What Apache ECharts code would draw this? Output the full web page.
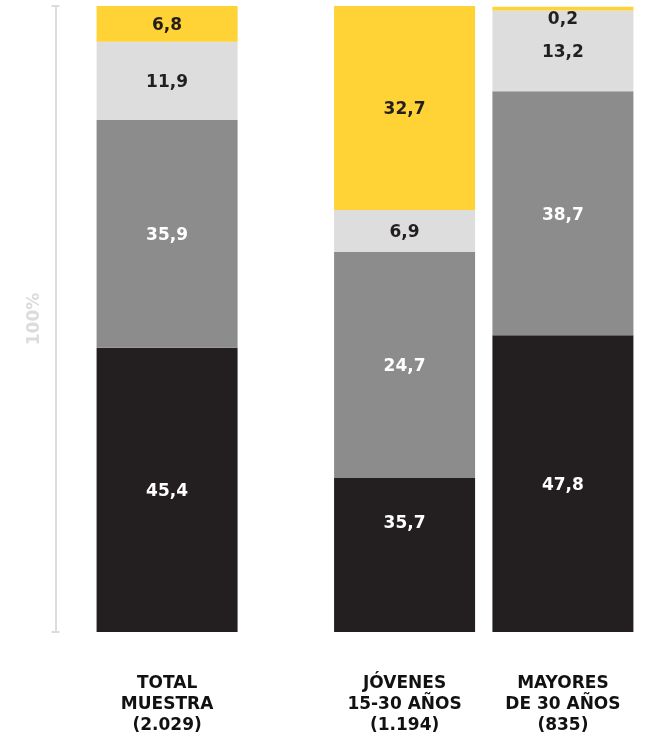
<!DOCTYPE html>
<html>
<head>
<meta charset="utf-8">
<script src="https://cdn.jsdelivr.net/npm/echarts@6/dist/echarts.min.js"></script>
<style>
  html, body { margin: 0; padding: 0; background: #fff; }
  #echarts { width: 646px; height: 741px; }
</style>
</head>
<body>
<div id="echarts"></div>
<script>
// categorias (los huecos separan el total de los grupos de edad)
const categories = ['TOTAL\nMUESTRA\n(2.029)', '', '', 'JÓVENES\n15-30 AÑOS\n(1.194)', '', 'MAYORES\nDE 30 AÑOS\n(835)']
const slots = [0, 3, 5]

// altura dibujada de cada tramo en % (de abajo hacia arriba)
const negro = [45.4, 24.6, 47.4]
const grisOscuro = [36.4, 36.1, 39.0]
const grisClaro = [12.5, 6.7, 12.9]
const amarillo = [5.7, 32.6, 0.6]

// cifras impresas en cada tramo
const negroTxt = ['45,4', '35,7', '47,8']
const grisOscuroTxt = ['35,9', '24,7', '38,7']
const grisClaroTxt = ['11,9', '6,9', '13,2']
const amarilloTxt = ['6,8', '32,7', '0,2']

const FONT = 'DejaVu Sans'

// colocar cada valor en su hueco de categoria
const toSlots = (values, texts) => {
  const out = categories.map(() => '-')
  slots.forEach((s, i) => { out[s] = { value: values[i], txt: texts[i] } })
  return out
}

const makeSeries = (name, values, texts, color, labelColor) => ({
  name,
  type: 'bar',
  stack: 'total',
  barWidth: 141,
  clip: false,
  data: toSlots(values, texts),
  itemStyle: { color },
  label: {
    show: true,
    position: 'inside',
    offset: [0, 2],
    formatter: (p) => p.data.txt,
    color: labelColor,
    fontFamily: FONT,
    fontWeight: 'bold',
    fontSize: 17,
  },
})

const series = [
  makeSeries('negro', negro, negroTxt, '#231f20', '#fff'),
  makeSeries('grisOscuro', grisOscuro, grisOscuroTxt, '#8c8c8c', '#fff'),
  makeSeries('grisClaro', grisClaro, grisClaroTxt, '#dddddd', '#231f20'),
  makeSeries('amarillo', amarillo, amarilloTxt, '#ffd236', '#231f20'),
]
// el 35,7 de jovenes va mas arriba en el original
series[0].data[3].label = { offset: [0, -31] }
// el 0,2 no cabe: etiqueta debajo de la franja amarilla
series[3].data[5].label = { position: 'bottom', distance: 1, offset: [0, 0] }

const yBase = {
  type: 'value',
  min: 0,
  max: 100,
  interval: 100,
  position: 'left',
  offset: 72,
  splitLine: { show: false },
  axisLabel: { show: false },
}

const option = {
  animation: false,
  grid: { left: 127.5, right: 43.5, top: 6, bottom: 109 },
  xAxis: {
    type: 'category',
    data: categories,
    axisLine: { show: false },
    axisTick: { show: false },
    axisLabel: {
      interval: 0,
      margin: 41,
      color: '#111',
      fontFamily: FONT,
      fontWeight: 'bold',
      fontSize: 17,
      lineHeight: 21,
    },
  },
  yAxis: [
    {
      ...yBase,
      name: '100%',
      nameLocation: 'middle',
      nameRotate: 90,
      nameGap: 12,
      nameTextStyle: { color: '#dcdcdc', fontFamily: FONT, fontWeight: 'bold', fontSize: 17 },
      axisLine: { show: true, lineStyle: { color: '#dcdcdc', width: 2 } },
      axisTick: { show: true, length: 4, lineStyle: { color: '#dcdcdc', width: 2 } },
    },
    {
      ...yBase,
      axisLine: { show: false },
      axisTick: { show: true, inside: true, length: 4, lineStyle: { color: '#dcdcdc', width: 2 } },
    },
  ],
  series,
}

const chart = echarts.init(document.querySelector('#echarts'))
chart.setOption(option)
window.addEventListener('resize', () => chart.resize())
</script>
</body>
</html>
